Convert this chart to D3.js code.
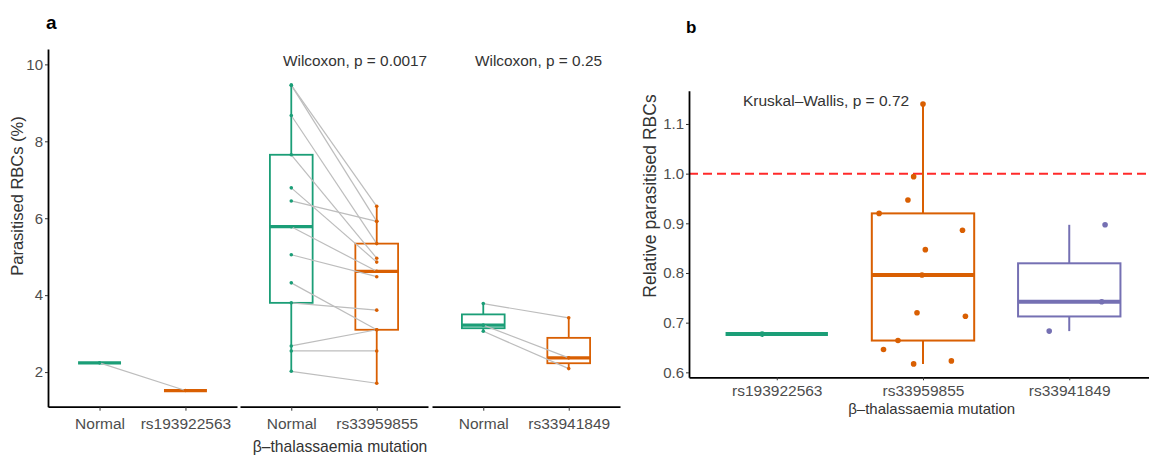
<!DOCTYPE html>
<html>
<head>
<meta charset="utf-8">
<script src="https://cdn.jsdelivr.net/npm/d3@7"></script>
<style>
  body { margin: 0; background: #fff; }
  svg { display: block; font-family: "Liberation Sans", Arial, sans-serif; }
</style>
</head>
<body>
<svg id="chart" width="1149" height="455"></svg>
<script>
// ---- panel a: paired parasitaemia (%), normal vs mutant donor cells ----
const facetMutations = ['rs193922563', 'rs33959855', 'rs33941849'];
const normal193 = [2.24];
const mutant193 = [1.52];
const normal559 = [9.46, 9.46, 8.67, 7.65, 6.79, 6.45, 5.78, 5.05, 4.32, 3.80, 2.68, 2.55, 2.02];
const mutant559 = [6.31, 5.92, 5.34, 4.96, 4.86, 5.92, 4.62, 4.48, 3.10, 3.61, 3.10, 2.55, 1.71];
const normal849 = [3.78, 3.22, 3.06];
const mutant849 = [3.41, 2.37, 2.09];
const wilcoxLabels = ['', 'Wilcoxon, p = 0.0017', 'Wilcoxon, p = 0.25'];
const yTicksA = [2, 4, 6, 8, 10];

// ---- panel b: relative parasitaemia (mutant / normal) ----
const relCategories = ['rs193922563', 'rs33959855', 'rs33941849'];
const rel193 = [0.677];
const rel559 = [1.14, 0.994, 0.947, 0.92, 0.886, 0.847, 0.796, 0.72, 0.713, 0.664, 0.646, 0.617, 0.623];
const rel849 = [0.683, 0.897, 0.742];
// horizontal jitter of the points, in category steps
const jitter193 = [-0.10];
const jitter559 = [0, -0.064, -0.103, -0.30, 0.27, 0.016, -0.007, -0.041, 0.29, -0.171, -0.27, -0.064, 0.194];
const jitter849 = [-0.137, 0.245, 0.222];
const yTicksB = [0.6, 0.7, 0.8, 0.9, 1.0, 1.1];
const refLevel = 1.0;
const kwLabel = 'Kruskal\u2013Wallis, p = 0.72';

const GREEN = '#1b9e77', ORANGE = '#d95f02', PURPLE = '#7570b3';
const TICK_TEXT = '#4d4d4d', TITLE_TEXT = '#333';

const svg = d3.select('#chart');

function boxStats(vals) {
  const s = vals.slice().sort(d3.ascending);
  const q1 = d3.quantileSorted(s, 0.25);
  const med = d3.quantileSorted(s, 0.5);
  const q3 = d3.quantileSorted(s, 0.75);
  const iqr = q3 - q1;
  return {
    q1, med, q3,
    lo: d3.min(s.filter(v => v >= q1 - 1.5 * iqr)),
    hi: d3.max(s.filter(v => v <= q3 + 1.5 * iqr))
  };
}

function drawBox(g, cx, halfW, y, vals, color, sw, medW) {
  const st = boxStats(vals);
  g.append('line')
    .attr('x1', cx).attr('x2', cx)
    .attr('y1', y(st.q3)).attr('y2', y(st.hi))
    .attr('stroke', color).attr('stroke-width', sw);
  g.append('line')
    .attr('x1', cx).attr('x2', cx)
    .attr('y1', y(st.q1)).attr('y2', y(st.lo))
    .attr('stroke', color).attr('stroke-width', sw);
  g.append('rect')
    .attr('x', cx - halfW).attr('width', halfW * 2)
    .attr('y', y(st.q3)).attr('height', Math.max(0, y(st.q1) - y(st.q3)))
    .attr('fill', '#fff').attr('stroke', color).attr('stroke-width', sw);
  g.append('line')
    .attr('x1', cx - halfW).attr('x2', cx + halfW)
    .attr('y1', y(st.med)).attr('y2', y(st.med))
    .attr('stroke', color).attr('stroke-width', medW);
}

function styleAxis(g, fontSize) {
  g.select('.domain').attr('stroke', '#000').attr('stroke-width', 1.8);
  g.selectAll('.tick line').attr('stroke', '#333').attr('stroke-width', 1);
  g.selectAll('.tick text')
    .attr('fill', TICK_TEXT)
    .style('font-size', fontSize + 'px')
    .style('font-family', '"Liberation Sans", Arial, sans-serif');
}

// ================= panel a =================
const yA = d3.scaleLinear().domain([1.1, 10.4]).range([406.7, 49]);
const facetRanges = [[48, 237], [240, 428], [432, 620]];
const facetData = [
  { normal: normal193, mutant: mutant193 },
  { normal: normal559, mutant: mutant559 },
  { normal: normal849, mutant: mutant849 }
];

const panelA = svg.append('g');

panelA.append('text')
  .attr('x', 46).attr('y', 29)
  .attr('font-size', 19).attr('font-weight', 'bold')
  .attr('fill', '#000').text('a');

const yAxisA = panelA.append('g')
  .attr('transform', 'translate(48,0)')
  .call(d3.axisLeft(yA).tickValues(yTicksA).tickSize(3).tickPadding(2).tickSizeOuter(0));
styleAxis(yAxisA, 15);

panelA.append('text')
  .attr('transform', 'translate(23,196) rotate(-90)')
  .attr('text-anchor', 'middle')
  .attr('font-size', 16.5).attr('fill', TITLE_TEXT)
  .text('Parasitised RBCs (%)');

facetMutations.forEach((mut, i) => {
  const x = d3.scalePoint()
    .domain(['Normal', mut])
    .range(facetRanges[i])
    .padding(0.6);
  const halfW = x.step() * 0.25;
  const d = facetData[i];
  const g = panelA.append('g');

  drawBox(g, x('Normal'), halfW, yA, d.normal, GREEN, 1.8, 3.2);
  drawBox(g, x(mut), halfW, yA, d.mutant, ORANGE, 1.8, 3.2);

  g.selectAll('line.pair')
    .data(d3.zip(d.normal, d.mutant))
    .join('line')
    .attr('class', 'pair')
    .attr('x1', x('Normal')).attr('x2', x(mut))
    .attr('y1', p => yA(p[0])).attr('y2', p => yA(p[1]))
    .attr('stroke', '#bdbdbd').attr('stroke-width', 1.2);

  g.selectAll('circle.n')
    .data(d.normal).join('circle').attr('class', 'n')
    .attr('cx', x('Normal')).attr('cy', v => yA(v))
    .attr('r', 1.8).attr('fill', GREEN);
  g.selectAll('circle.m')
    .data(d.mutant).join('circle').attr('class', 'm')
    .attr('cx', x(mut)).attr('cy', v => yA(v))
    .attr('r', 1.8).attr('fill', ORANGE);

  const xAxis = g.append('g')
    .attr('transform', 'translate(0,406.7)')
    .call(d3.axisBottom(x).tickSize(4).tickPadding(7).tickSizeOuter(0));
  styleAxis(xAxis, 15.5);

  if (wilcoxLabels[i]) {
    g.append('text')
      .attr('x', facetRanges[i][0] + 43).attr('y', 66)
      .attr('font-size', 15.4).attr('fill', TITLE_TEXT)
      .text(wilcoxLabels[i]);
  }
});

panelA.append('text')
  .attr('x', 340).attr('y', 452)
  .attr('text-anchor', 'middle')
  .attr('font-size', 15.7).attr('fill', TITLE_TEXT)
  .text('\u03b2\u2013thalassaemia mutation');

// ================= panel b =================
const xB = d3.scalePoint().domain(relCategories).range([689, 1157]).padding(0.6);
const yB = d3.scaleLinear().domain([0.59, 1.167]).range([377.3, 90.7]);
const relSeries = [
  { vals: rel193, jit: jitter193, color: GREEN },
  { vals: rel559, jit: jitter559, color: ORANGE },
  { vals: rel849, jit: jitter849, color: PURPLE }
];

const panelB = svg.append('g');

panelB.append('text')
  .attr('x', 686).attr('y', 33)
  .attr('font-size', 17).attr('font-weight', 'bold')
  .attr('fill', '#000').text('b');

panelB.append('line')
  .attr('x1', 689).attr('x2', 1160)
  .attr('y1', yB(refLevel)).attr('y2', yB(refLevel))
  .attr('stroke', '#ff2a2a').attr('stroke-width', 2)
  .attr('stroke-dasharray', '9,5');

relSeries.forEach((s, i) => {
  const cx = xB(relCategories[i]);
  const g = panelB.append('g');
  drawBox(g, cx, xB.step() * 0.35, yB, s.vals, s.color, 2, 4);
  g.selectAll('circle')
    .data(d3.zip(s.vals, s.jit))
    .join('circle')
    .attr('cx', p => cx + p[1] * xB.step())
    .attr('cy', p => yB(p[0]))
    .attr('r', 2.8).attr('fill', s.color);
});

const yAxisB = panelB.append('g')
  .attr('transform', 'translate(689,0)')
  .call(d3.axisLeft(yB).tickValues(yTicksB).tickFormat(d3.format('.1f'))
    .tickSize(3).tickPadding(2).tickSizeOuter(0));
styleAxis(yAxisB, 15);

const xAxisB = panelB.append('g')
  .attr('transform', 'translate(0,377.3)')
  .call(d3.axisBottom(xB).tickSize(3).tickPadding(5).tickSizeOuter(0));
styleAxis(xAxisB, 15.5);

panelB.append('text')
  .attr('transform', 'translate(656,196) rotate(-90)')
  .attr('text-anchor', 'middle')
  .attr('font-size', 17.5).attr('fill', TITLE_TEXT)
  .text('Relative parasitised RBCs');

panelB.append('text')
  .attr('x', 931.7).attr('y', 414)
  .attr('text-anchor', 'middle')
  .attr('font-size', 15).attr('fill', TITLE_TEXT)
  .text('\u03b2\u2013thalassaemia mutation');

panelB.append('text')
  .attr('x', 743).attr('y', 106)
  .attr('font-size', 15.5).attr('fill', TITLE_TEXT)
  .text(kwLabel);
</script>
</body>
</html>
